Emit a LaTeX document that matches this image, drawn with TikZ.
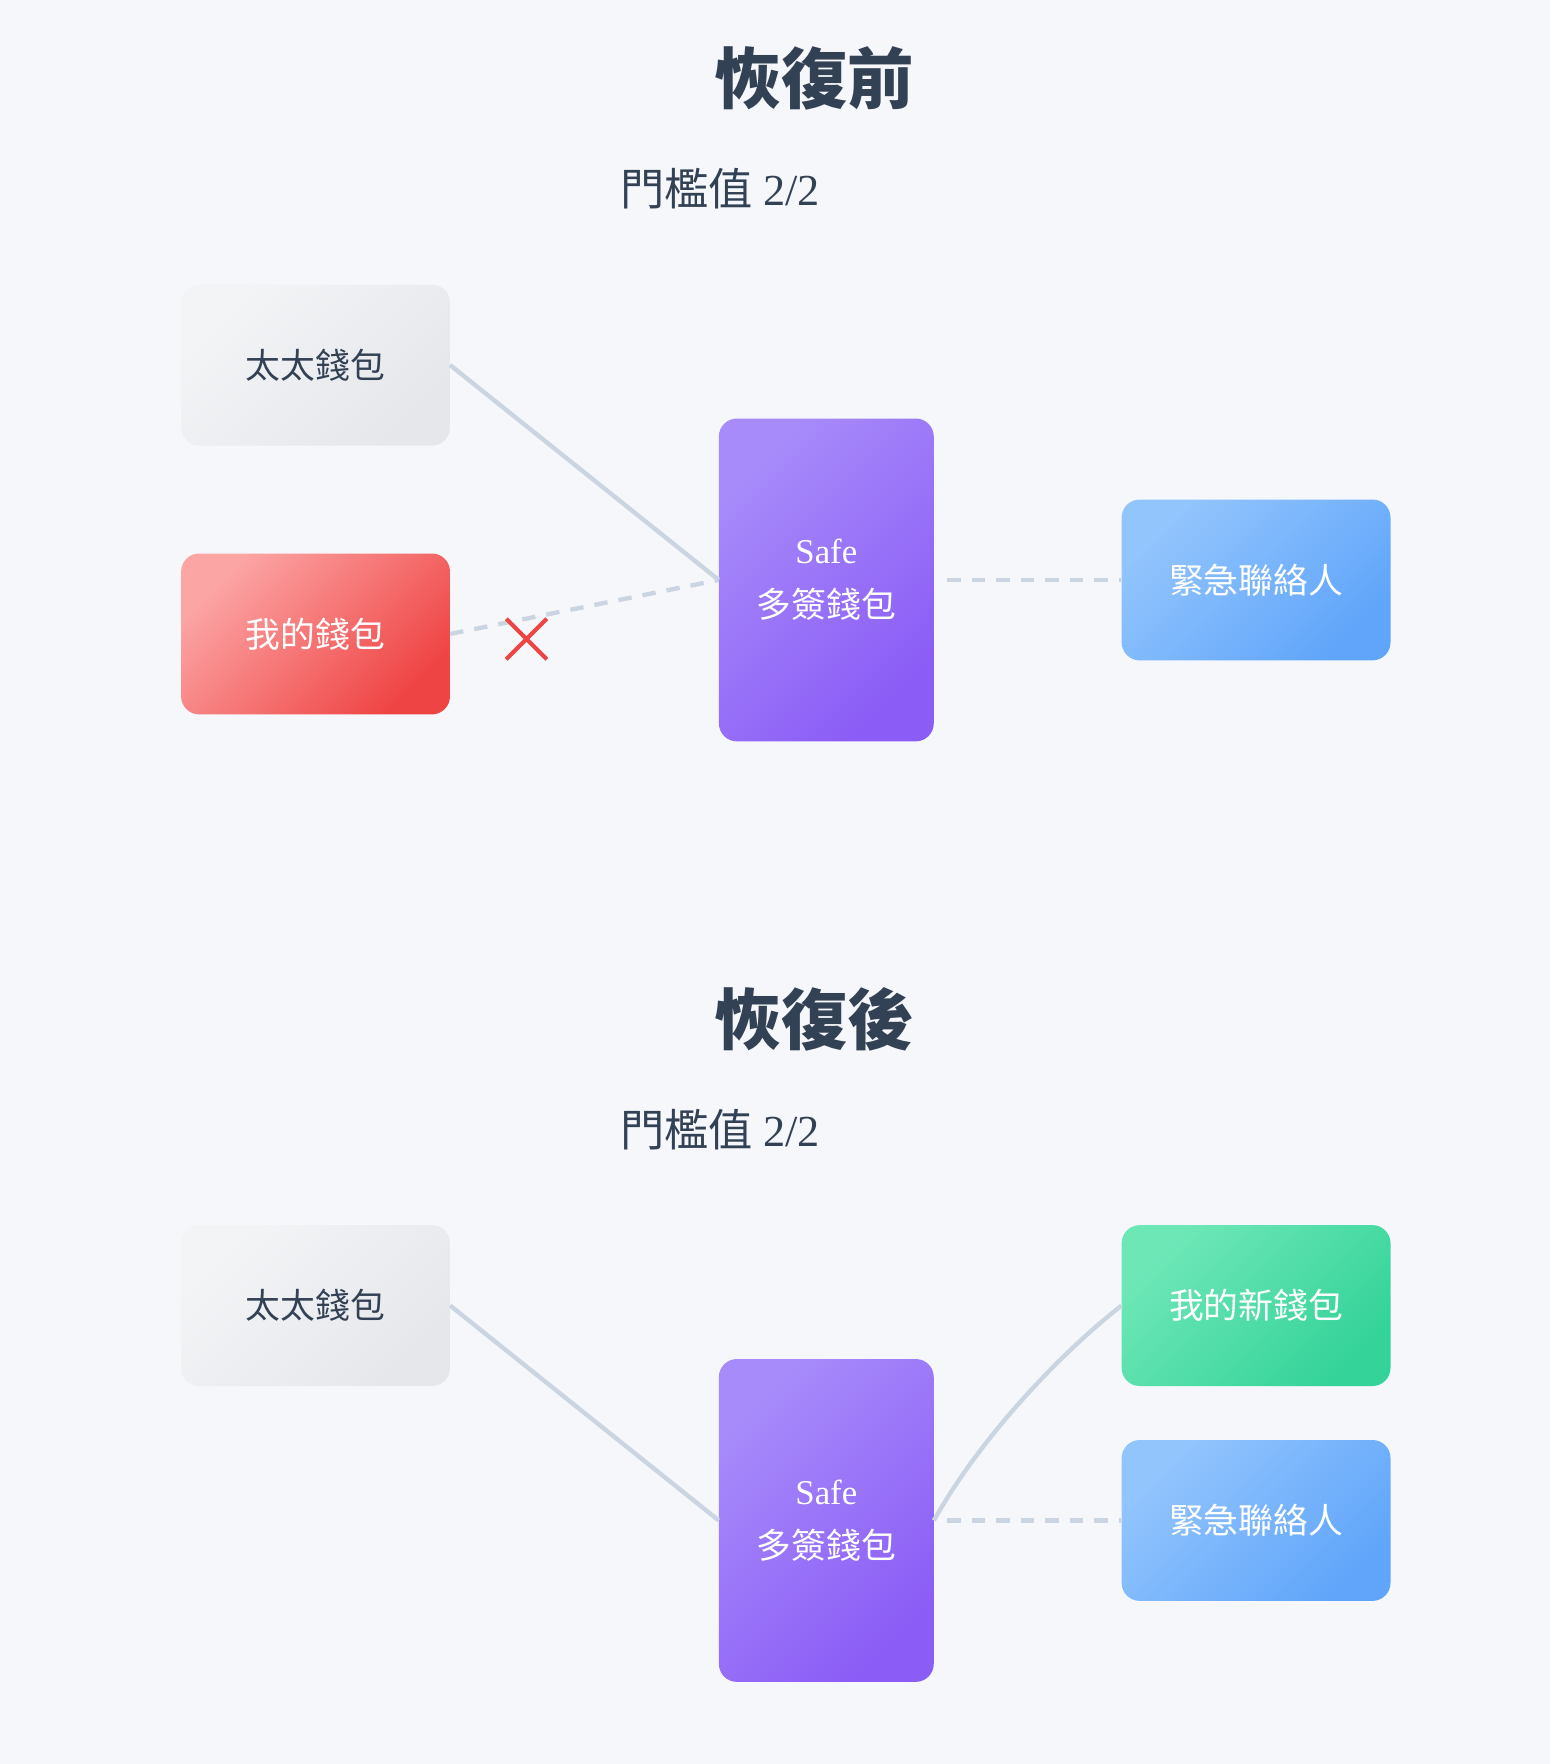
\documentclass[tikz,border=0pt]{standalone}
\usepackage{fontspec}
\setmainfont{Liberation Serif}
\newfontfamily\cjk{Noto Sans CJK TC}
\definecolor{txt}{HTML}{334155}
\definecolor{lnc}{HTML}{CBD5E1}
\definecolor{bg}{HTML}{F5F7FA}
\definecolor{pa}{HTML}{A78BFA}\definecolor{pb}{HTML}{8B5CF6}
\definecolor{ra}{HTML}{FCA5A5}\definecolor{rb}{HTML}{EF4444}
\definecolor{ba}{HTML}{93C5FD}\definecolor{bb}{HTML}{60A5FA}
\definecolor{ga}{HTML}{6EE7B7}\definecolor{gb}{HTML}{34D399}
\definecolor{wa}{HTML}{F3F4F6}\definecolor{wb}{HTML}{E5E7EB}
\begin{document}
\begin{tikzpicture}[x=0.05cm,y=-0.05cm,
  box/.style={rounded corners=0.8cm,minimum width=11.95cm,minimum height=7.15cm,inner sep=0,text=white,font=\fontsize{44}{54}\selectfont\cjk},
  gray/.style={box,left color=wa,right color=wb,shading angle=45,text=txt},
  red/.style={box,left color=ra,right color=rb,shading angle=45},
  purp/.style={box,minimum width=9.55cm,minimum height=14.35cm,left color=pa,right color=pb,shading angle=45,font=\fontsize{44}{68}\selectfont\cjk},
  blu/.style={box,left color=ba,right color=bb,shading angle=45},
  grn/.style={box,left color=ga,right color=gb,shading angle=45},
  ln/.style={draw=lnc,line width=5.5pt},
  dl/.style={ln,dash pattern=on 17pt off 14pt},
  ttl/.style={font=\fontsize{84}{90}\selectfont\cjk\bfseries,text=txt},
  sub/.style={font=\fontsize{56}{60}\selectfont\cjk,text=txt}]
\fill[bg] (0,0) rectangle (1378,1568);
\useasboundingbox (0,0) rectangle (1378,1568);
% top
\node[ttl] (t1) at (724,70) {恢復前};
\node[sub] (s1) at (640,168) {門檻值 \rmfamily 2/2};
\node[gray] (w1) at (280.5,324.5) {太太錢包};
\node[red] (m1) at (280.5,563.5) {我的錢包};
\node[purp] (sf1) at (734.5,515.5) {\begin{tabular}{c}\rmfamily Safe\\多簽錢包\end{tabular}};
\node[blu] (e1) at (1116.5,515.5) {緊急聯絡人};
\draw[ln] (w1.east) -- (sf1.west);
\draw[dl] (m1.east) -- (sf1.west);
\coordinate (x1) at (468,568);
\draw[rb,line width=5pt] ([shift={(-18,-18)}]x1) -- ([shift={(18,18)}]x1) ([shift={(-18,18)}]x1) -- ([shift={(18,-18)}]x1);
\draw[dl] ([xshift=12*0.05cm]sf1.east) -- (e1.west);
% bottom
\node[ttl] (t2) at (724,906) {恢復後};
\node[sub] (s2) at (640,1004) {門檻值 \rmfamily 2/2};
\node[gray] (w2) at (280.5,1160.5) {太太錢包};
\node[purp] (sf2) at (734.5,1351.5) {\begin{tabular}{c}\rmfamily Safe\\多簽錢包\end{tabular}};
\node[grn] (n2) at (1116.5,1160.5) {我的新錢包};
\node[blu] (e2) at (1116.5,1351.5) {緊急聯絡人};
\draw[ln] (w2.east) -- (sf2.west);
\draw[ln] (sf2.east) .. controls (870,1280) and (940,1205) .. (n2.west);
\draw[dl] ([xshift=12*0.05cm]sf2.east) -- (e2.west);
\end{tikzpicture}
\end{document}
